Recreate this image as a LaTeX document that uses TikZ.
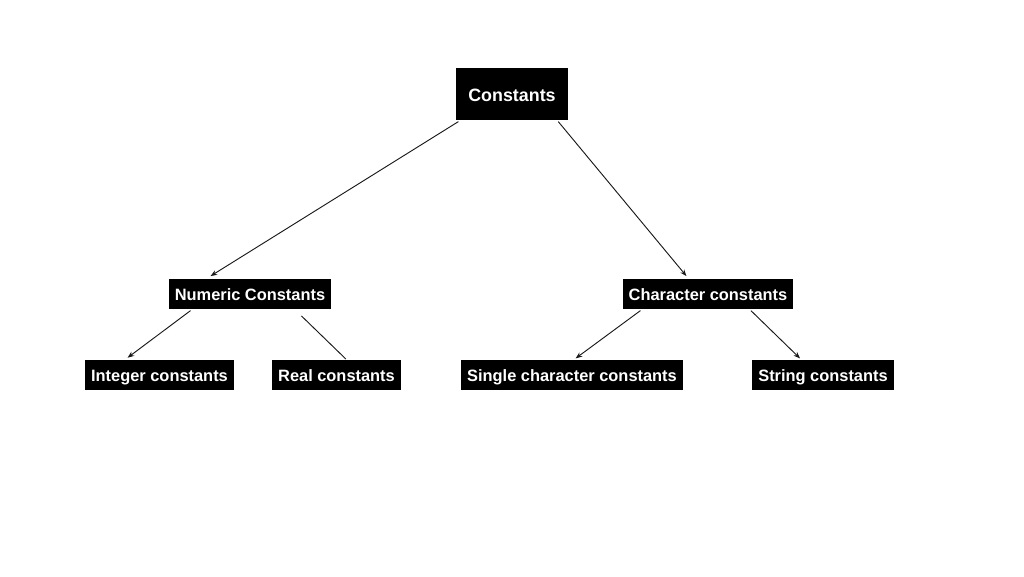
\documentclass[tikz,border=0pt]{standalone}
\usepackage{fontspec}
\setmainfont{Liberation Sans}
\usetikzlibrary{arrows.meta, positioning, calc}

\begin{document}
\begin{tikzpicture}[
  x=0.75pt, y=-0.75pt,
  box/.style={fill=black, text=white, inner xsep=4.5pt, inner ysep=0pt, minimum height=22.5pt,
    text height=10.8pt, text depth=1.2pt, font=\fontsize{12.3}{14}\selectfont\bfseries},
  rootbox/.style={box, minimum width=84pt, minimum height=39pt,
    text height=12.5pt, text depth=0.8pt, font=\fontsize{13.4}{15}\selectfont\bfseries},
  arrow/.style={-{Stealth[length=5pt, width=3.8pt]}, line width=0.7pt, draw=black!90},
  link/.style={line width=0.7pt, draw=black!90}
]
  \useasboundingbox (0,0) rectangle (1024,576);

  % Top
  \node[rootbox] (const) at (512,94) {Constants};

  % Middle level
  \node[box] (num) at (250,294) {Numeric Constants};
  \node[box] (chr) at (708,294) {Character constants};

  % Bottom level
  \node[box] (int) at (159.5,375) {Integer constants};
  \node[box] (real) at (336.5,375) {Real constants};
  \node[box] (single) at (572,375) {Single character constants};
  \node[box] (str) at (823,375) {String constants};

  % Connectors
  \draw[arrow] ([xshift=2pt, yshift=-1pt]const.south west) -- ([xshift=31.5pt, yshift=2pt]num.north west);
  \draw[arrow] ([xshift=-7.5pt, yshift=-1pt]const.south east) -- ([xshift=48pt, yshift=2pt]chr.north west);
  \draw[arrow] ([xshift=16.5pt, yshift=-1pt]num.south west) -- ([xshift=32pt, yshift=1.5pt]int.north west);
  \draw[link] ([xshift=-22.5pt, yshift=-5pt]num.south east) -- ([xshift=55.5pt, yshift=0.5pt]real.north west);
  \draw[arrow] ([xshift=13.5pt, yshift=-1pt]chr.south west) -- ([xshift=86pt, yshift=1pt]single.north west);
  \draw[arrow] ([xshift=-32pt, yshift=-1pt]chr.south east) -- ([xshift=36pt, yshift=1pt]str.north west);

\end{tikzpicture}
\end{document}
